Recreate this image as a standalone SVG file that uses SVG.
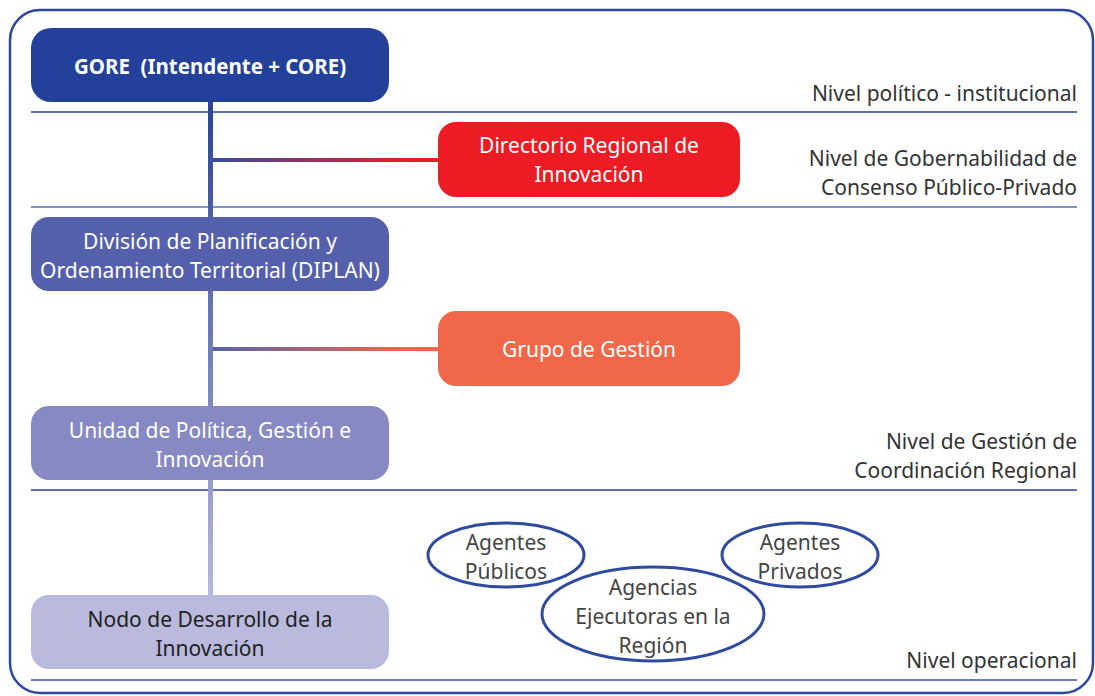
<svg xmlns="http://www.w3.org/2000/svg" width="1095" height="696" viewBox="0 0 1095 696">
<style>
.t{font-family:"Noto Sans","Liberation Sans",sans-serif;font-size:21px;text-anchor:middle}
.w{fill:#ffffff}
.g{fill:#444444}
.r{font-family:"Noto Sans","Liberation Sans",sans-serif;font-size:21px;text-anchor:end;fill:#333333}
.b{font-weight:bold;font-size:20.5px}
.el{fill:#ffffff;stroke:#2f4aa0;stroke-width:3}
</style>
<defs>
<linearGradient id="vg" x1="0" y1="102" x2="0" y2="595" gradientUnits="userSpaceOnUse">
<stop offset="0" stop-color="#2a4399"/>
<stop offset="1" stop-color="#b6b8dd"/>
</linearGradient>
<linearGradient id="hg1" x1="213" y1="0" x2="438" y2="0" gradientUnits="userSpaceOnUse">
<stop offset="0" stop-color="#3849a0"/>
<stop offset="0.8" stop-color="#e0202c"/>
<stop offset="1" stop-color="#ed1c24"/>
</linearGradient>
<linearGradient id="hg2" x1="213" y1="0" x2="438" y2="0" gradientUnits="userSpaceOnUse">
<stop offset="0" stop-color="#5862ad"/>
<stop offset="0.8" stop-color="#e9664e"/>
<stop offset="1" stop-color="#f1674a"/>
</linearGradient>
</defs>
<rect x="10" y="10" width="1083" height="683" rx="30" fill="#ffffff" stroke="#2b48a0" stroke-width="2.5"/>
<g id="levels">
<line x1="31" y1="112" x2="1077" y2="112" stroke="#2a4199" stroke-width="1.5"/>
<line x1="31" y1="207" x2="1077" y2="207" stroke="#5a6fb8" stroke-width="1.5"/>
<line x1="31" y1="490" x2="1077" y2="490" stroke="#2a4199" stroke-width="1.5"/>
<line x1="31" y1="680" x2="1077" y2="680" stroke="#3a52a5" stroke-width="1.5"/>
<text class="r" x="1077" y="101">Nivel político - institucional</text>
<text class="r" x="1077" y="166">Nivel de Gobernabilidad de</text>
<text class="r" x="1077" y="195">Consenso Público-Privado</text>
<text class="r" x="1077" y="449">Nivel de Gestión de</text>
<text class="r" x="1077" y="478">Coordinación Regional</text>
<text class="r" x="1077" y="668">Nivel operacional</text>
</g>
<g id="connectors">
<rect x="208" y="100" width="5" height="497" fill="url(#vg)"/>
<rect x="213" y="158" width="227" height="4" fill="url(#hg1)"/>
<rect x="213" y="347" width="227" height="4" fill="url(#hg2)"/>
</g>
<g id="gore">
<rect x="31" y="28" width="358" height="74" rx="20" fill="#23419a"/>
<text class="t w b" x="210" y="74">GORE&#160; (Intendente + CORE)</text>
</g>
<g id="directorio">
<rect x="438" y="122" width="302" height="75" rx="18" fill="#ed1c24"/>
<text class="t w" x="589" y="153">Directorio Regional de</text>
<text class="t w" x="589" y="182">Innovación</text>
</g>
<g id="diplan">
<rect x="31" y="217" width="358" height="74" rx="18" fill="#5560ad"/>
<text class="t w" x="210" y="249">División de Planificación y</text>
<text class="t w" x="210" y="278">Ordenamiento Territorial (DIPLAN)</text>
</g>
<g id="grupo">
<rect x="438" y="311" width="302" height="75" rx="18" fill="#f1674a"/>
<text class="t w" x="589" y="357">Grupo de Gestión</text>
</g>
<g id="unidad">
<rect x="31" y="406" width="358" height="74" rx="18" fill="#8689c2"/>
<text class="t w" x="210" y="438">Unidad de Política, Gestión e</text>
<text class="t w" x="210" y="467">Innovación</text>
</g>
<g id="nodo">
<rect x="31" y="595" width="358" height="74" rx="18" fill="#b9badd"/>
<text class="t" x="210" y="627" fill="#222222">Nodo de Desarrollo de la</text>
<text class="t" x="210" y="656" fill="#222222">Innovación</text>
</g>
<g id="agentes-publicos">
<ellipse class="el" cx="506" cy="555" rx="78" ry="32"/>
<text class="t g" x="506" y="550">Agentes</text>
<text class="t g" x="506" y="579">Públicos</text>
</g>
<g id="agentes-privados">
<ellipse class="el" cx="800" cy="555" rx="78" ry="32"/>
<text class="t g" x="800" y="550">Agentes</text>
<text class="t g" x="800" y="579">Privados</text>
</g>
<g id="agencias">
<ellipse class="el" cx="653" cy="614" rx="111" ry="47"/>
<text class="t g" x="653" y="595">Agencias</text>
<text class="t g" x="653" y="624">Ejecutoras en la</text>
<text class="t g" x="653" y="653">Región</text>
</g>
</svg>
